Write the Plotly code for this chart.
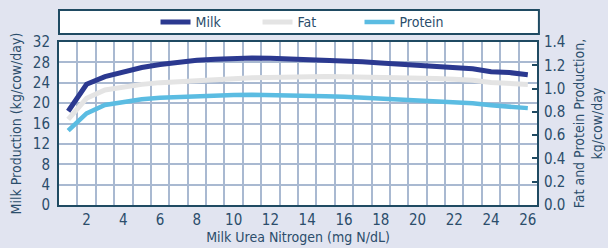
import plotly.graph_objects as go

muns = list(range(1, 27))
milk = [18.4, 23.7, 25.2, 26.2, 27.0, 27.6, 28.05, 28.4, 28.6, 28.8, 28.85, 28.8, 28.7,
        28.55, 28.4, 28.25, 28.1, 27.9, 27.65, 27.45, 27.2, 26.95, 26.75, 26.15, 26.0, 25.55]
fat = [0.735, 0.916, 0.988, 1.016, 1.036, 1.051, 1.062, 1.071, 1.079, 1.085, 1.092, 1.097, 1.1,
       1.102, 1.103, 1.102, 1.1, 1.099, 1.096, 1.092, 1.086, 1.079, 1.071, 1.052, 1.046, 1.036]
protein = [0.638, 0.787, 0.859, 0.887, 0.908, 0.922, 0.930, 0.937, 0.942, 0.945, 0.946, 0.945, 0.943,
           0.940, 0.935, 0.930, 0.922, 0.914, 0.908, 0.902, 0.894, 0.885, 0.873, 0.857, 0.847, 0.832]
x_ticks = list(range(2, 27, 2))

TXT = "#2b4d6b"
BORDER = "#1f4a62"
GRID = "#a9b9d1"
FONT = "DejaVu Sans Condensed, DejaVu Sans"

fig = go.Figure()
fig.add_trace(go.Scatter(x=muns, y=milk, name="Milk", mode="lines",
                         line=dict(color="#2b3990", width=5)))
fig.add_trace(go.Scatter(x=muns, y=fat, name="Fat", mode="lines", yaxis="y2",
                         line=dict(color="#e4e4e4", width=5)))
fig.add_trace(go.Scatter(x=muns, y=protein, name="Protein", mode="lines", yaxis="y2",
                         line=dict(color="#5bbce2", width=4.5)))

fig.update_layout(
    width=608, height=248,
    margin=dict(l=59, r=71, t=42, b=43, autoexpand=False),
    paper_bgcolor="#e1e4f0", plot_bgcolor="white",
    font=dict(family=FONT, color=TXT, size=14),
    showlegend=True,
    legend=dict(orientation="h", x=0.522, xanchor="center", y=0.91, yref="container",
                yanchor="middle", bgcolor="rgba(0,0,0,0)", font=dict(size=14),
                entrywidth=57, entrywidthmode="pixels", itemclick=False),
    shapes=[dict(type="rect", xref="paper", yref="paper", x0=0, x1=1.004, y0=1.049, y1=1.196,
                 line=dict(color=BORDER, width=2), fillcolor="white", layer="below")],
    xaxis=dict(range=[0.5, 26.5], tickmode="array", tickvals=x_ticks, showgrid=False,
               ticks="", zeroline=False, showline=True, linecolor=BORDER, linewidth=2, mirror=True,
               tickfont=dict(size=15), ticklabelstandoff=0,
               minor=dict(tick0=0.5, dtick=1, showgrid=True, gridcolor=GRID, gridwidth=1.5),
               title=dict(text="Milk Urea Nitrogen (mg N/dL)", font=dict(size=14), standoff=4)),
    yaxis=dict(range=[0, 32], dtick=4, showgrid=True, gridcolor=GRID, gridwidth=1.5,
               zeroline=False, showline=True, linecolor=BORDER, linewidth=2, mirror=True,
               ticks="", tickfont=dict(size=15), ticklabelstandoff=4,
               title=dict(text="Milk Production (kg/cow/day)", font=dict(size=14), standoff=8)),
    yaxis2=dict(range=[0, 1.4], dtick=0.2, tickformat=".1f", overlaying="y", side="right",
                showgrid=False, zeroline=False, showline=False,
                ticks="inside", ticklen=5, tickcolor=BORDER, tickwidth=1.5,
                tickfont=dict(size=15), ticklabelstandoff=6,
                title=dict(text="Fat and Protein Production,<br>kg/cow/day", font=dict(size=14),
                           standoff=9)),
)

fig.write_html("out.html", config={"displayModeBar": False},
               post_script="document.body.style.margin='0';")
